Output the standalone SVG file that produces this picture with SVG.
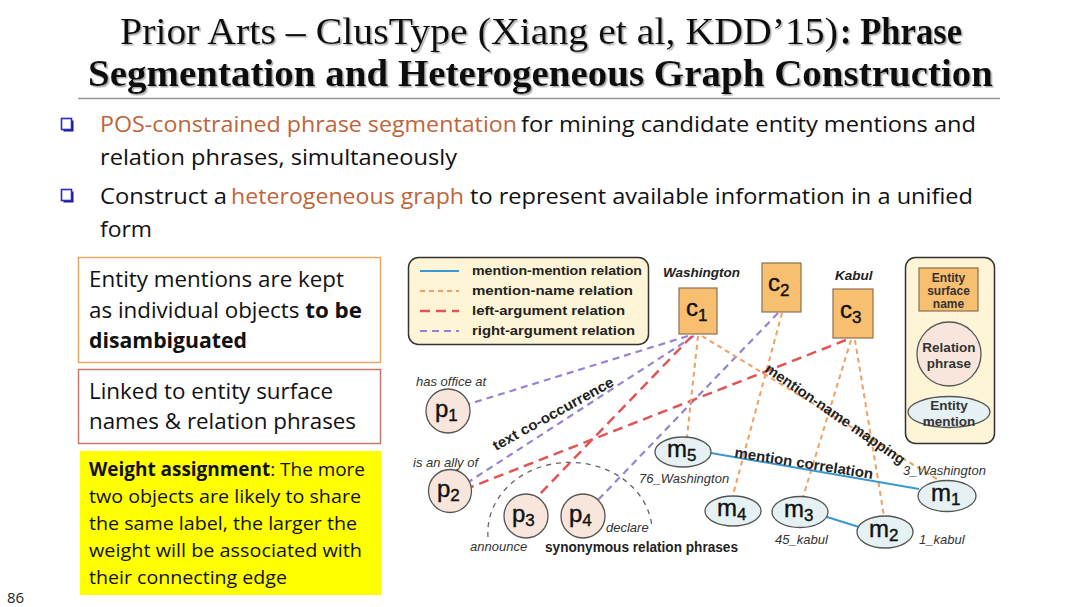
<svg xmlns="http://www.w3.org/2000/svg" width="1080" height="607" viewBox="0 0 1080 607">
<defs>
<filter id="tshadow" x="-5%" y="-20%" width="110%" height="150%">
  <feDropShadow dx="1.5" dy="1.5" stdDeviation="0.6" flood-color="#999" flood-opacity="0.8"/>
</filter>
</defs>
<style>
.title{font-family:"Liberation Serif","Times New Roman",serif;font-size:37px;fill:#111}
.body{font-family:"Open Sans","Liberation Sans",sans-serif;font-size:22px;fill:#111}
.box3{font-family:"Open Sans","Liberation Sans",sans-serif;font-size:19px;fill:#111}
.hl{fill:#c0643a}
.leg{font-family:"Liberation Sans",Arial,sans-serif;font-size:13.5px;font-weight:bold;fill:#222}
.lbl{font-family:"Liberation Sans",Arial,sans-serif;font-size:13px;font-style:italic;fill:#333}
.city{font-family:"Liberation Sans",Arial,sans-serif;font-size:13.5px;font-style:italic;font-weight:bold;fill:#222}
.edge{font-family:"Liberation Sans",Arial,sans-serif;font-size:14.5px;font-weight:bold;fill:#222}
.node{font-family:"Liberation Sans",Arial,sans-serif;font-size:24px;fill:#111;stroke:#111;stroke-width:0.4}
.sub{font-size:17px}
.key{font-family:"Liberation Sans",Arial,sans-serif;font-size:12px;font-weight:bold;fill:#333}
.key2{font-family:"Liberation Sans",Arial,sans-serif;font-size:13.5px;font-weight:bold;fill:#333}
.cbox{fill:#f9bf70;stroke:#8a7050;stroke-width:1.2}
.pc{fill:#f8e6dc;stroke:#555;stroke-width:1.3}
.me{fill:#e6f1f4;stroke:#555;stroke-width:1.3}
.mm{stroke:#3a98d0;stroke-width:2;fill:none}
.mn{stroke:#f0a060;stroke-width:2;stroke-dasharray:5 4;fill:none}
.la{stroke:#e05555;stroke-width:2.5;stroke-dasharray:10 6;fill:none}
.ra{stroke:#9a82d2;stroke-width:2.2;stroke-dasharray:7 5;fill:none}
</style>

<rect width="1080" height="607" fill="#fff"/>

<!-- Title -->
<g id="title">
  <g filter="url(#tshadow)">
    <text class="title" x="120" y="44" textLength="718" lengthAdjust="spacingAndGlyphs">Prior Arts – ClusType (Xiang et al, KDD’15)</text>
    <text class="title" x="840" y="44" font-weight="bold" textLength="122" lengthAdjust="spacingAndGlyphs">: Phrase</text>
    <text class="title" x="88" y="86" font-weight="bold" textLength="905" lengthAdjust="spacingAndGlyphs">Segmentation and Heterogeneous Graph Construction</text>
  </g>
  <line x1="78" y1="98.5" x2="1000" y2="98.5" stroke="#999" stroke-width="1.5"/>
</g>

<!-- Bullets -->
<g id="bullets">
  <rect x="63.5" y="120.5" width="10" height="11" fill="#1a1a80"/>
  <rect x="61.5" y="118.5" width="10" height="11" fill="#fff" stroke="#2a2ac8" stroke-width="1.6"/>
  <text class="body" x="100" y="132"><tspan class="hl" textLength="417" lengthAdjust="spacingAndGlyphs">POS-constrained phrase segmentation</tspan><tspan x="521" textLength="455" lengthAdjust="spacingAndGlyphs">for mining candidate entity mentions and</tspan></text>
  <text class="body" x="100" y="165" textLength="357" lengthAdjust="spacingAndGlyphs">relation phrases, simultaneously</text>
  <rect x="63.5" y="191.5" width="10" height="11" fill="#1a1a80"/>
  <rect x="61.5" y="189.5" width="10" height="11" fill="#fff" stroke="#2a2ac8" stroke-width="1.6"/>
  <text class="body" x="100" y="204"><tspan textLength="127" lengthAdjust="spacingAndGlyphs">Construct a</tspan><tspan class="hl" x="231" textLength="233" lengthAdjust="spacingAndGlyphs">heterogeneous graph</tspan><tspan x="470" textLength="503" lengthAdjust="spacingAndGlyphs">to represent available information in a unified</tspan></text>
  <text class="body" x="100" y="237" textLength="52" lengthAdjust="spacingAndGlyphs">form</text>
</g>

<!-- Left boxes -->
<g id="box-mentions">
  <rect x="78.5" y="257.5" width="302" height="105" fill="#fff" stroke="#e2a868" stroke-width="1.5"/>
  <text class="body" x="89" y="287" textLength="255" lengthAdjust="spacingAndGlyphs">Entity mentions are kept</text>
  <text class="body" x="89" y="318" textLength="273" lengthAdjust="spacingAndGlyphs">as individual objects <tspan font-weight="bold">to be</tspan></text>
  <text class="body" x="89" y="348" font-weight="bold" textLength="158" lengthAdjust="spacingAndGlyphs">disambiguated</text>
</g>
<g id="box-linked">
  <rect x="78.5" y="369.5" width="302" height="74" fill="#fff" stroke="#c8786a" stroke-width="1.5"/>
  <text class="body" x="89" y="399" textLength="244" lengthAdjust="spacingAndGlyphs">Linked to entity surface</text>
  <text class="body" x="89" y="429" textLength="267" lengthAdjust="spacingAndGlyphs">names &amp; relation phrases</text>
</g>
<g id="box-weight">
  <rect x="80" y="451" width="301" height="144" fill="#ffff00"/>
  <text class="box3" x="89" y="476" textLength="276" lengthAdjust="spacingAndGlyphs"><tspan font-weight="bold">Weight assignment</tspan>: The more</text>
  <text class="box3" x="89" y="503" textLength="272" lengthAdjust="spacingAndGlyphs">two objects are likely to share</text>
  <text class="box3" x="89" y="530" textLength="268" lengthAdjust="spacingAndGlyphs">the same label, the larger the</text>
  <text class="box3" x="89" y="557" textLength="273" lengthAdjust="spacingAndGlyphs">weight will be associated with</text>
  <text class="box3" x="89" y="584" textLength="198" lengthAdjust="spacingAndGlyphs">their connecting edge</text>
</g>
<text x="7" y="603" font-family="Open Sans, Liberation Sans, sans-serif" font-size="15" fill="#222">86</text>

<!-- Legend -->
<g id="legend">
  <rect x="408.5" y="257.5" width="240" height="87" rx="10" fill="#fdf5d6" stroke="#333" stroke-width="1.5"/>
  <line x1="420" y1="271" x2="459" y2="271" class="mm"/>
  <line x1="420" y1="291" x2="459" y2="291" class="mn" stroke-dasharray="4 4"/>
  <line x1="420" y1="311" x2="459" y2="311" class="la" stroke-dasharray="9 6"/>
  <line x1="420" y1="331" x2="459" y2="331" class="ra" stroke-dasharray="6 5"/>
  <text class="leg" x="472" y="275" textLength="170" lengthAdjust="spacingAndGlyphs">mention-mention relation</text>
  <text class="leg" x="472" y="295" textLength="161" lengthAdjust="spacingAndGlyphs">mention-name relation</text>
  <text class="leg" x="472" y="315" textLength="153" lengthAdjust="spacingAndGlyphs">left-argument relation</text>
  <text class="leg" x="472" y="335" textLength="163" lengthAdjust="spacingAndGlyphs">right-argument relation</text>
</g>

<g id="key">
  <rect x="905.5" y="257.5" width="89" height="186" rx="10" fill="#fdf5d6" stroke="#333" stroke-width="1.5"/>
  <rect x="919" y="268" width="59" height="43" class="cbox"/>
  <text class="key" x="948.5" y="282" text-anchor="middle">Entity</text>
  <text class="key" x="948.5" y="295" text-anchor="middle">surface</text>
  <text class="key" x="948.5" y="308" text-anchor="middle">name</text>
  <circle cx="949" cy="354" r="32" class="pc"/>
  <text class="key2" x="949" y="352" text-anchor="middle">Relation</text>
  <text class="key2" x="949" y="368" text-anchor="middle">phrase</text>
  <ellipse cx="949" cy="412" rx="41" ry="15.5" class="me"/>
  <text class="key2" x="949" y="410" text-anchor="middle">Entity</text>
  <text class="key2" x="949" y="426" text-anchor="middle">mention</text>
</g>

<!-- Connectors -->
<g id="connectors">
  <line x1="688" y1="336" x2="469" y2="404" class="ra"/>
  <line x1="694" y1="336" x2="470" y2="481" class="ra"/>
  <line x1="778" y1="313" x2="597" y2="501" class="ra"/>
  <line x1="692" y1="336" x2="537" y2="497" class="la"/>
  <line x1="846" y1="340" x2="471" y2="487" class="la"/>
  <line x1="698" y1="336" x2="687" y2="437" class="mn"/>
  <line x1="702" y1="336" x2="940" y2="481" class="mn"/>
  <line x1="782" y1="313" x2="733" y2="495" class="mn"/>
  <line x1="851" y1="340" x2="803" y2="497" class="mn"/>
  <line x1="855" y1="340" x2="884" y2="516" class="mn"/>
  <line x1="711" y1="453" x2="919" y2="489" class="mm"/>
  <line x1="827" y1="517" x2="859" y2="527" class="mm"/>
  <path d="M 488 537 A 82 70 0 0 1 652 528" fill="none" stroke="#666" stroke-width="1.3" stroke-dasharray="5 5"/>
  <text class="edge" transform="translate(496,451) rotate(-29)" textLength="136" lengthAdjust="spacingAndGlyphs">text co-occurrence</text>
  <text class="edge" transform="translate(764,371) rotate(34.5)" textLength="166" lengthAdjust="spacingAndGlyphs">mention-name mapping</text>
  <text class="edge" transform="translate(734,457) rotate(9)" textLength="140" lengthAdjust="spacingAndGlyphs">mention correlation</text>
</g>

<!-- Surface name nodes -->
<g id="c1">
  <text class="city" x="663" y="277">Washington</text>
  <rect x="679" y="288" width="38" height="46" class="cbox"/>
  <text class="node" x="686" y="316">c<tspan class="sub" dy="5">1</tspan></text>
</g>
<g id="c2">
  <rect x="762" y="263" width="39" height="49" class="cbox"/>
  <text class="node" x="768" y="291">c<tspan class="sub" dy="5">2</tspan></text>
</g>
<g id="c3">
  <text class="city" x="835" y="280">Kabul</text>
  <rect x="833" y="289" width="40" height="49" class="cbox"/>
  <text class="node" x="840" y="318">c<tspan class="sub" dy="5">3</tspan></text>
</g>

<!-- Relation phrase nodes -->
<g id="p1">
  <text class="lbl" x="416" y="386">has office at</text>
  <circle cx="448" cy="411" r="22" class="pc"/>
  <text class="node" x="435" y="417">p<tspan class="sub" dy="4">1</tspan></text>
</g>
<g id="p2">
  <text class="lbl" x="413" y="467">is an ally of</text>
  <circle cx="450" cy="491" r="21.5" class="pc"/>
  <text class="node" x="437" y="497">p<tspan class="sub" dy="4">2</tspan></text>
</g>
<g id="p3">
  <circle cx="526" cy="516" r="22" class="pc"/>
  <text class="node" x="512" y="522">p<tspan class="sub" dy="4">3</tspan></text>
  <text class="lbl" x="470" y="551">announce</text>
</g>
<g id="p4">
  <circle cx="583" cy="516" r="22" class="pc"/>
  <text class="node" x="569" y="522">p<tspan class="sub" dy="4">4</tspan></text>
  <text class="lbl" x="606" y="532">declare</text>
</g>
<text class="edge" x="545" y="552" font-size="13" textLength="193" lengthAdjust="spacingAndGlyphs">synonymous relation phrases</text>

<!-- Mention nodes -->
<g id="m5">
  <ellipse cx="683" cy="452" rx="28" ry="15" class="me"/>
  <text class="node" x="667" y="457">m<tspan class="sub" dy="4">5</tspan></text>
  <text class="lbl" x="639" y="483">76_Washington</text>
</g>
<g id="m4">
  <ellipse cx="733" cy="511" rx="28" ry="15" class="me"/>
  <text class="node" x="717" y="516">m<tspan class="sub" dy="4">4</tspan></text>
</g>
<g id="m3">
  <ellipse cx="800" cy="512" rx="28" ry="15.5" class="me"/>
  <text class="node" x="784" y="517">m<tspan class="sub" dy="4">3</tspan></text>
  <text class="lbl" x="775" y="544">45_kabul</text>
</g>
<g id="m2">
  <ellipse cx="885" cy="532" rx="28" ry="16" class="me"/>
  <text class="node" x="869" y="537">m<tspan class="sub" dy="4">2</tspan></text>
  <text class="lbl" x="919" y="544">1_kabul</text>
</g>
<g id="m1">
  <ellipse cx="947" cy="496" rx="29" ry="15.5" class="me"/>
  <text class="node" x="931" y="501">m<tspan class="sub" dy="4">1</tspan></text>
  <text class="lbl" x="903" y="475">3_Washington</text>
</g>
</svg>
